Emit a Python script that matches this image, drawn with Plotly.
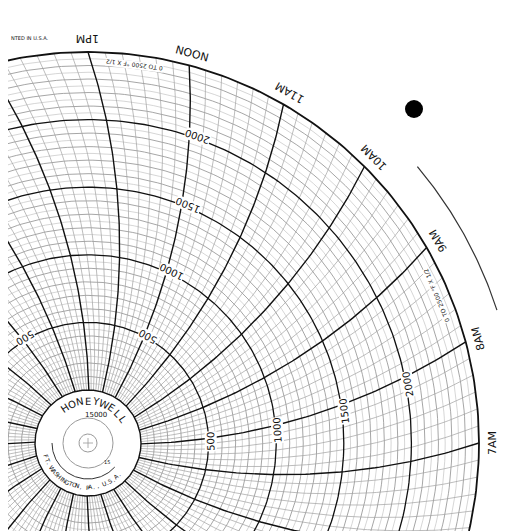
import numpy as np
import plotly.graph_objects as go

# chart values
VALUE_MAX = 2500
MAJOR_VALUES = [500, 1000, 1500, 2000, 2500]
MINOR_STEP = 50
HOURS = list(range(24))
HOUR_NAMES = ["MID"] + [f"{h}AM" for h in range(1, 12)] + ["NOON"] + [f"{h}PM" for h in range(1, 12)]
MINOR_PER_HOUR = 6
LABEL_HOURS = [0, 4, 8, 12, 16, 20]
LABEL_VALUES = [500, 1000, 1500, 2000]

# geometry (pixels)
R_HUB = 53
R_OUT = 391
PEN_ARM = 620
BASE_HOUR = 7  # hour sitting at 0 degrees

def r_of(v):
    return R_HUB + v * (R_OUT - R_HUB) / VALUE_MAX

def theta_of(hour, r):
    t_out = (hour - BASE_HOUR) * 15.0
    return t_out - (np.degrees(np.arccos(r / (2 * PEN_ARM))) - np.degrees(np.arccos(R_OUT / (2 * PEN_ARM))))

def xy(r, t):
    t = np.radians(t)
    return r * np.cos(t), r * np.sin(t)

def circle_xy(r, t0=0, t1=360, n=361):
    t = np.linspace(t0, t1, n)
    return xy(r, t)

def pack(pieces):
    xs, ys = [], []
    for x, y in pieces:
        xs += list(x) + [None]
        ys += list(y) + [None]
    return xs, ys

fig = go.Figure()

def add_lines(pieces, color, width):
    xs, ys = pack(pieces)
    fig.add_trace(go.Scatter(x=xs, y=ys, mode="lines", line=dict(color=color, width=width),
                             hoverinfo="skip", showlegend=False))

minor_vals = [v for v in range(MINOR_STEP, VALUE_MAX, MINOR_STEP) if v not in MAJOR_VALUES]
add_lines([circle_xy(r_of(v)) for v in minor_vals if v % 100], "#c4c4c4", 0.7)
add_lines([circle_xy(r_of(v)) for v in minor_vals if v % 100 == 0], "#8f8f8f", 0.8)

rs = np.linspace(R_HUB, R_OUT, 80)
minor_t = []
for h in HOURS:
    for k in range(1, MINOR_PER_HOUR):
        hh = h + k / MINOR_PER_HOUR
        minor_t.append(xy(rs, theta_of(hh, rs)))
add_lines(minor_t, "#a0a0a0", 0.7)

add_lines([xy(rs, theta_of(h, rs)) for h in HOURS], "#111", 1.4)
add_lines([circle_xy(r_of(v)) for v in MAJOR_VALUES[:-1]], "#111", 1.3)
add_lines([circle_xy(R_OUT)], "#111", 1.8)
add_lines([circle_xy(R_HUB)], "#111", 1.4)
add_lines([circle_xy(430, 18, 40, 60)], "#333", 1.2)

# hub details
add_lines([circle_xy(25)], "#999", 1.0)
add_lines([circle_xy(9)], "#999", 1.0)
add_lines([([-5, 5], [0, 0]), ([0, 0], [-5, 5])], "#999", 0.8)
add_lines([circle_xy(36, 180, 318, 80)], "#333", 1.0)

# black dot
fig.add_trace(go.Scatter(x=[326], y=[334], mode="markers", marker=dict(color="black", size=18),
                         hoverinfo="skip", showlegend=False))

ann = []
FONT = "DejaVu Sans"

for h in HOURS:
    t = (h - BASE_HOUR) * 15.0
    x, y = xy(404, t)
    ann.append(dict(x=x, y=y, text=HOUR_NAMES[h], showarrow=False, textangle=-(t + 90),
                    font=dict(family=FONT, size=11, color="#111")))

for h in LABEL_HOURS:
    for v in LABEL_VALUES:
        r = r_of(v) + 2
        t = theta_of(h, r) - 1.5
        x, y = xy(r, t)
        ann.append(dict(x=x, y=y, text=str(v), showarrow=False, textangle=-(t + 90),
                        bgcolor="white", borderpad=0,
                        font=dict(family=FONT, size=10, color="#111")))

for t, r in [(83, 381), (23, 378)]:
    x, y = xy(r, t)
    ann.append(dict(x=x, y=y, text="0 TO 2500 °F X 1/2", showarrow=False, textangle=-(t + 90),
                    bgcolor="white", borderpad=0, font=dict(family=FONT, size=6, color="#222")))

def arc_text(text, r, t0, t1, size, top=True):
    n = len(text)
    for i, ch in enumerate(text):
        t = t0 + (t1 - t0) * i / max(n - 1, 1)
        x, y = xy(r, t)
        ang = (90 - t) if top else -(t + 90)
        ann.append(dict(x=x, y=y, text=ch, showarrow=False, textangle=ang,
                        font=dict(family=FONT, size=size, color="#111")))

arc_text("HONEYWELL", 42, 124, 34, 10)
arc_text("FT. WASHINGTON, PA., U.S.A.", 44, 198, 314, 6, top=False)
ann.append(dict(x=8, y=28, text="15000", showarrow=False, font=dict(family=FONT, size=7, color="#111")))
ann.append(dict(x=19, y=-19, text="15", showarrow=False, font=dict(family=FONT, size=5, color="#111")))
ann.append(dict(x=-79, y=405, text="NTED IN U.S.A.", xanchor="left", showarrow=False,
                font=dict(family=FONT, size=5, color="#111")))

fig.update_layout(
    width=513, height=531, margin=dict(l=0, r=0, t=0, b=0),
    paper_bgcolor="white", plot_bgcolor="white",
    xaxis=dict(range=[-80, 433], visible=False, fixedrange=True),
    yaxis=dict(range=[-96, 435], visible=False, fixedrange=True),
    annotations=ann,
)
fig.write_html("out.html")
